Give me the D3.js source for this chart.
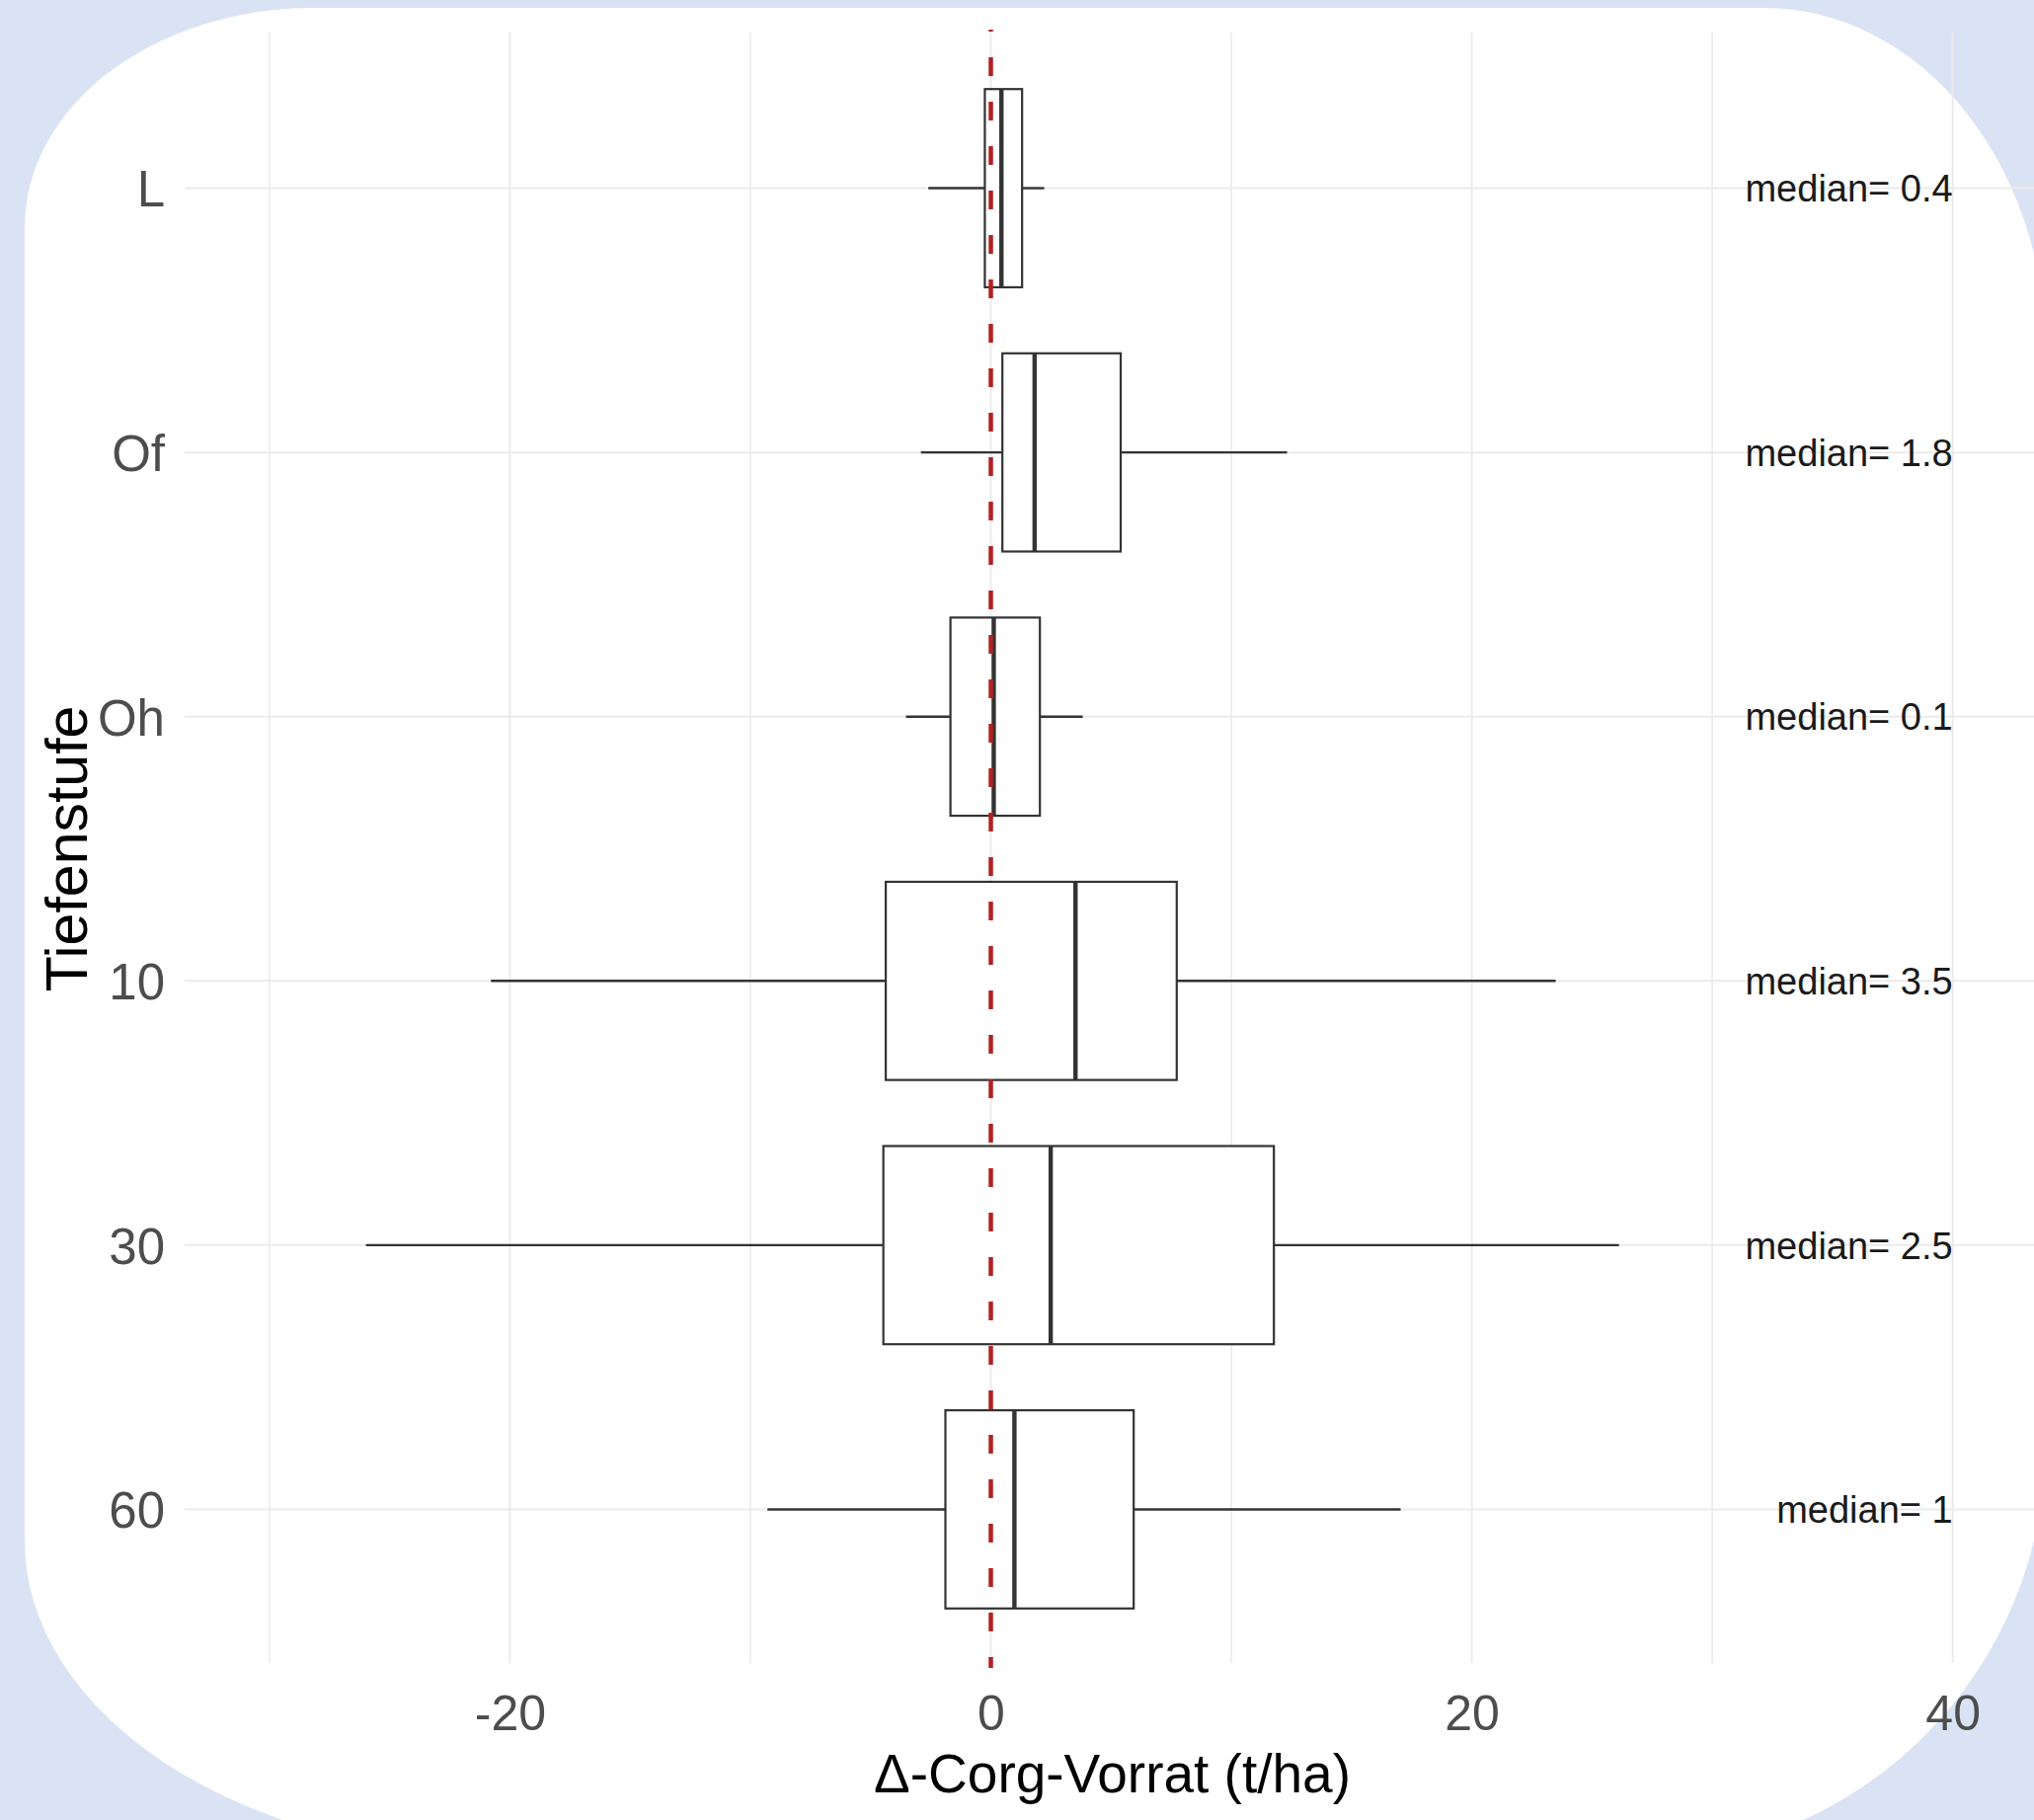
<!DOCTYPE html>
<meta charset="utf-8">
<style>
body { margin: 0; }
svg { display: block; }
text { font-family: "Liberation Sans", Arial, sans-serif; }
.tick text { fill: #4d4d4d; font-size: 51px; }
.xaxis .tick text { font-size: 50px; }
.label { fill: #1a1a1a; font-size: 38px; }
.title { fill: #000; }
</style>
<svg width="2060" height="1843"></svg>
<script src="https://d3js.org/d3.v7.min.js"></script>
<script>

// data (t/ha)
var stufen   = ["L", "Of", "Oh", "10", "30", "60"]
var whiskLo  = [-2.60, -2.91, -3.53, -20.79, -25.99, -9.29]
var q1       = [-0.25, 0.48, -1.68, -4.37, -4.47, -1.89]
var median   = [0.44, 1.82, 0.12, 3.52, 2.49, 0.98]
var q3       = [1.30, 5.40, 2.04, 7.73, 11.77, 5.94]
var whiskHi  = [2.22, 12.32, 3.82, 23.49, 26.12, 17.04]
var xMajor   = [-20, 0, 20, 40]
var xMinor   = [-30, -10, 10, 30]
var refLine  = 0
var labelX   = 40

var svg = d3.select("svg")
var W = 2060, H = 1843

// backdrop + white rounded card
svg.append("rect").attr("width", W).attr("height", H).attr("fill", "#dae3f3")
var L = 25, T = 8, R = 2072, B = 1880
svg.append("path")
  .attr("fill", "#fff")
  .attr("d",
    "M" + (L + 292) + "," + T +
    " H" + (R - 285) +
    " A285,350 0 0 1 " + R + "," + (T + 350) +
    " V" + (B - 420) +
    " A417,420 0 0 1 " + (R - 417) + "," + B +
    " H" + (L + 490) +
    " A490,320 0 0 1 " + L + "," + (B - 320) +
    " V" + (T + 222) +
    " A292,222 0 0 1 " + (L + 292) + "," + T + " Z")

var panel = {left: 184, right: 2069, top: 30, bottom: 1689}

var x = d3.scaleLinear().domain([-33.65, 43.75]).range([panel.left, panel.right])
var y = d3.scalePoint().domain(stufen).range([panel.top, panel.bottom]).padding(0.6)
var half = y.step() * 0.75 / 2

var rows = stufen.map(function(s, i) {
  return {s: s, lo: whiskLo[i], q1: q1[i], med: median[i], q3: q3[i], hi: whiskHi[i]}
})

// grid
var grid = svg.append("g")
grid.selectAll(".minor").data(xMinor).enter().append("line")
  .attr("x1", x).attr("x2", x).attr("y1", 33).attr("y2", 1684)
  .attr("stroke", "#ebebeb").attr("stroke-width", 1.6)
grid.selectAll(".major").data(xMajor).enter().append("line")
  .attr("x1", x).attr("x2", x).attr("y1", 33).attr("y2", 1684)
  .attr("stroke", "#ebebeb").attr("stroke-width", 2)
grid.selectAll(".hz").data(stufen).enter().append("line")
  .attr("x1", 187).attr("x2", panel.right)
  .attr("y1", y).attr("y2", y)
  .attr("stroke", "#ebebeb").attr("stroke-width", 2)

// boxplots
var box = svg.selectAll(".box").data(rows).enter().append("g")
  .attr("transform", function(d) { return "translate(0," + y(d.s) + ")" })
box.append("line")
  .attr("x1", function(d) { return x(d.lo) }).attr("x2", function(d) { return x(d.q1) })
  .attr("stroke", "#333").attr("stroke-width", 2.4)
box.append("line")
  .attr("x1", function(d) { return x(d.q3) }).attr("x2", function(d) { return x(d.hi) })
  .attr("stroke", "#333").attr("stroke-width", 2.4)
box.append("rect")
  .attr("x", function(d) { return x(d.q1) })
  .attr("width", function(d) { return x(d.q3) - x(d.q1) })
  .attr("y", -half).attr("height", half * 2)
  .attr("fill", "#fff").attr("stroke", "#333").attr("stroke-width", 2.2)
box.append("line")
  .attr("x1", function(d) { return x(d.med) }).attr("x2", function(d) { return x(d.med) })
  .attr("y1", -half).attr("y2", half)
  .attr("stroke", "#333").attr("stroke-width", 4.4)

// red reference line at 0
svg.append("line")
  .attr("x1", x(refLine)).attr("x2", x(refLine))
  .attr("y1", panel.top).attr("y2", panel.bottom)
  .attr("stroke", "#b22222").attr("stroke-width", 4.5)
  .attr("stroke-dasharray", "19,26").attr("stroke-dashoffset", 17)

// median labels
svg.selectAll(".label").data(rows).enter().append("text")
  .attr("class", "label")
  .attr("x", x(labelX)).attr("y", function(d) { return y(d.s) })
  .attr("dy", "0.36em").attr("text-anchor", "end")
  .text(function(d) { return "median= " + (Math.round(d.med * 10) / 10) })

// axes
var xAxis = svg.append("g").attr("class", "xaxis")
  .attr("transform", "translate(0," + panel.bottom + ")")
  .call(d3.axisBottom(x).tickValues(xMajor).tickSize(0).tickPadding(27).tickFormat(function(d) { return String(d) }))
xAxis.select(".domain").remove()

var yAxis = svg.append("g").attr("class", "yaxis")
  .attr("transform", "translate(" + panel.left + ",0)")
  .call(d3.axisLeft(y).tickSize(0).tickPadding(17))
yAxis.select(".domain").remove()
yAxis.selectAll("text").attr("dy", "0.36em")
svg.selectAll(".tick text").attr("fill", null)
svg.selectAll(".xaxis, .yaxis").attr("font-size", null).attr("font-family", null)

// titles
svg.append("text").attr("class", "title")
  .attr("x", (panel.left + panel.right) / 2).attr("y", 1815)
  .attr("text-anchor", "middle").attr("font-size", 55)
  .text("\u0394-Corg-Vorrat (t/ha)")

svg.append("text").attr("class", "title")
  .attr("transform", "translate(88," + (panel.top + panel.bottom) / 2 + ") rotate(-90)")
  .attr("text-anchor", "middle").attr("font-size", 59)
  .text("Tiefenstufe")

</script>
